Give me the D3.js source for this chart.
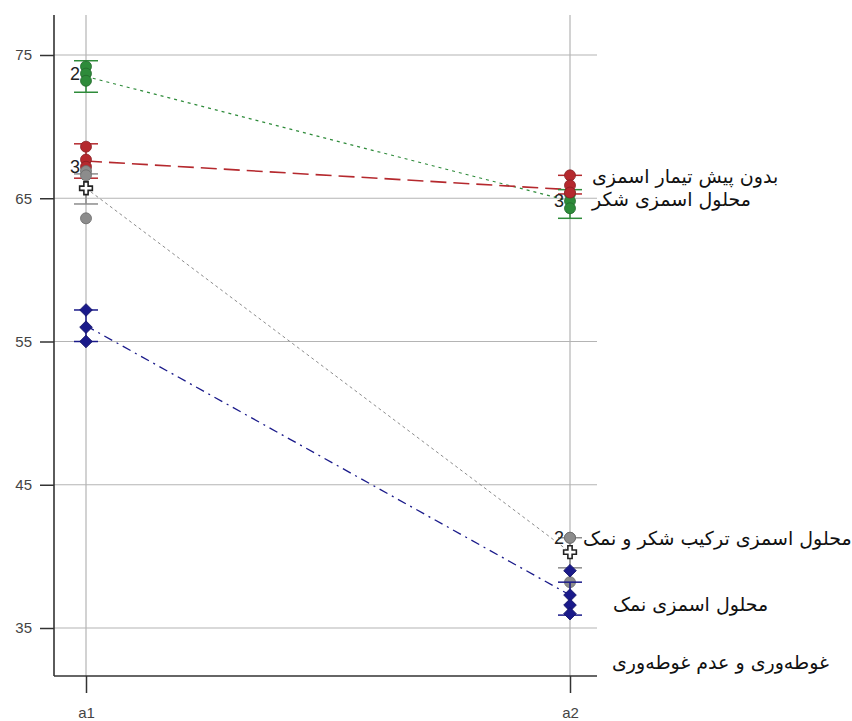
<!DOCTYPE html>
<html><head><meta charset="utf-8">
<script src="https://cdn.jsdelivr.net/npm/d3@7"></script>
<style>body{margin:0;background:#fff}svg{display:block}</style>
</head><body>
<svg id="c" width="852" height="721"></svg>
<script>
const levels = ["a1", "a2"];
const yTicks = [35, 45, 55, 65, 75];
const factorLabel = "غوطه‌وری و عدم غوطه‌وری";

const seriesNames = ["محلول اسمزی شکر", "بدون پیش تیمار اسمزی", "محلول اسمزی ترکیب شکر و نمک", "محلول اسمزی نمک"];
const seriesColors = ["#2e8b3a", "#b5292e", "#8c8c8c", "#1a1a8a"];
// replicate points at a1 / a2
const greenPts = [[74.2, 73.7, 73.2], [65.3, 64.8, 64.3]];
const redPts = [[68.6, 67.7, 67.2], [66.6, 65.9, 65.4]];
const grayPts = [[66.9, 66.6, 63.6], [41.3, 41.3, 38.2]];
const bluePts = [[57.2, 56.0, 55.0], [39.0, 37.3, 36.6, 36.0]];
// means at a1 / a2
const greenMean = [73.5, 64.8];
const redMean = [67.6, 65.6];
const grayMean = [65.7, 40.3];
const blueMean = [56.1, 37.3];
// error bar [high, low] at a1 / a2
const greenErr = [[74.6, 72.4], [65.6, 63.6]];
const redErr = [[68.8, 66.4], [66.6, 65.3]];
const grayErr = [[66.7, 64.6], [41.3, 39.2]];
const blueErr = [[57.2, 55.0], [38.2, 35.9]];
// overlap count labels
const countLabels = [
  {lvl: "a1", v: 73.7, t: "2"}, {lvl: "a1", v: 67.2, t: "3"},
  {lvl: "a2", v: 64.8, t: "3"}, {lvl: "a2", v: 41.3, t: "2"}
];
// label anchor values for the series names
const labelVals = [64.9, 66.5, 41.2, 36.6];

const series = [
  {pts: greenPts, mean: greenMean, err: greenErr, dash: "3,4", w: 1.2, shape: "circle"},
  {pts: redPts, mean: redMean, err: redErr, dash: "16,7", w: 1.6, shape: "circle"},
  {pts: grayPts, mean: grayMean, err: grayErr, dash: "3,3", w: 1, shape: "circle"},
  {pts: bluePts, mean: blueMean, err: blueErr, dash: "9,5,2,5", w: 1.3, shape: "diamond"}
];

const svg = d3.select("#c");
const x = d3.scalePoint().domain(levels).range([86, 570]);
const y = d3.scaleLinear().domain([35, 75]).range([628, 55]);
const pTop = 15, pBottom = 676, pLeft = 54, pRight = 597;

// grid
svg.append("g").selectAll("line").data(yTicks).join("line")
  .attr("x1", pLeft).attr("x2", pRight).attr("y1", d => y(d)).attr("y2", d => y(d))
  .attr("stroke", "#b4b4b4").attr("stroke-width", 1.2);
svg.append("g").selectAll("line").data(levels).join("line")
  .attr("x1", d => x(d)).attr("x2", d => x(d)).attr("y1", pTop).attr("y2", pBottom)
  .attr("stroke", "#b4b4b4").attr("stroke-width", 1.2);

// y axis
const ya = svg.append("g").attr("transform", `translate(${pLeft},0)`)
  .call(d3.axisLeft(y).tickValues(yTicks).tickSize(14).tickPadding(8));
ya.select(".domain").remove();
ya.selectAll(".tick line").attr("stroke", "#333").attr("stroke-width", 1.5);
ya.selectAll("text").attr("font-family", "Liberation Sans, Arial").attr("font-size", 15).attr("fill", "#444");
svg.append("line").attr("x1", pLeft).attr("x2", pLeft).attr("y1", pTop).attr("y2", pBottom).attr("stroke", "#333").attr("stroke-width", 1.6);

// x axis
const xa = svg.append("g").attr("transform", `translate(0,${pBottom})`)
  .call(d3.axisBottom(x).tickSize(17).tickPadding(14));
xa.select(".domain").remove();
xa.selectAll(".tick line").attr("stroke", "#333").attr("stroke-width", 1.5);
xa.selectAll("text").attr("font-family", "Liberation Sans, Arial").attr("font-size", 15).attr("fill", "#444");
svg.append("line").attr("x1", pLeft).attr("x2", pRight).attr("y1", pBottom).attr("y2", pBottom).attr("stroke", "#333").attr("stroke-width", 1.6);

// mean lines
series.forEach((s, i) => {
  svg.append("line")
    .attr("x1", x("a1")).attr("y1", y(s.mean[0])).attr("x2", x("a2")).attr("y2", y(s.mean[1]))
    .attr("stroke", seriesColors[i]).attr("stroke-width", s.w).attr("stroke-dasharray", s.dash);
});

// error bars and points
series.forEach((s, i) => {
  const c = seriesColors[i];
  levels.forEach((lvl, j) => {
    const g = svg.append("g");
    const [hi, lo] = s.err[j];
    g.append("line").attr("x1", x(lvl)).attr("x2", x(lvl)).attr("y1", y(hi)).attr("y2", y(lo)).attr("stroke", c).attr("stroke-width", 1.5);
    [hi, lo].forEach(v => g.append("line").attr("x1", x(lvl) - 12).attr("x2", x(lvl) + 12)
      .attr("y1", y(v)).attr("y2", y(v)).attr("stroke", c).attr("stroke-width", 1.5));
    const isD = s.shape === "diamond";
    const sym = d3.symbol().type(isD ? d3.symbolSquare : d3.symbolCircle).size(isD ? 80 : 95);
    g.selectAll("path").data(s.pts[j]).join("path")
      .attr("d", sym).attr("transform", d => `translate(${x(lvl)},${y(d)})` + (isD ? " rotate(45)" : ""))
      .attr("fill", c).attr("stroke", d3.color(c).darker(0.8)).attr("stroke-width", 0.8);
  });
});

// cross mean markers for the combined series
svg.append("g").selectAll("path").data(levels).join("path")
  .attr("d", d3.symbol().type(d3.symbolCross).size(90))
  .attr("transform", (d, j) => `translate(${x(d)},${y(grayMean[j])})`)
  .attr("fill", "#fff").attr("stroke", "#222").attr("stroke-width", 1.6);

// count labels
svg.append("g").selectAll("text").data(countLabels).join("text")
  .attr("x", d => x(d.lvl) - 6).attr("y", d => y(d.v) + 6)
  .attr("text-anchor", "end").attr("font-family", "Liberation Sans, Arial").attr("font-size", 18).attr("fill", "#222")
  .text(d => d.t);

// series labels
const lblX = [592, 592, 583, 613];
svg.append("g").selectAll("text").data(seriesNames).join("text")
  .attr("x", (d, i) => lblX[i]).attr("y", (d, i) => y(labelVals[i]) + 6)
  .attr("font-family", "DejaVu Sans").attr("font-size", 19).attr("fill", "#111")
  .text(d => d);
svg.append("text").attr("x", 612).attr("y", 669).attr("font-family", "DejaVu Sans").attr("font-size", 19).attr("fill", "#111")
  .text(factorLabel);
</script>
</body></html>
